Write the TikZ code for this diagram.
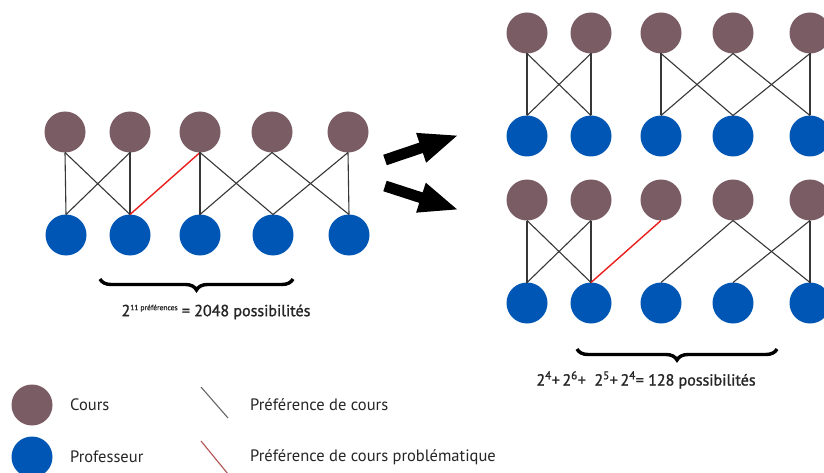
\documentclass[tikz,border=0pt]{standalone}
\usepackage{fontspec}
\setmainfont{PT Sans}
\newfontfamily\semigras[FakeBold=1.3]{PT Sans}
\usetikzlibrary{arrows.meta,decorations.pathreplacing}
\definecolor{coursbrun}{RGB}{122,92,101}
\definecolor{profbleu}{RGB}{0,86,180}
\definecolor{traitgris}{RGB}{55,55,55}
\definecolor{rougepref}{RGB}{235,30,30}

\begin{document}
\begin{tikzpicture}[x=1pt,y=-1pt]
  \tikzset{CoursStyle/.style = {
    shape         = circle,
    fill          = coursbrun,
    inner sep     = 0pt,
    outer sep     = 0pt,
    minimum size  = 41pt
    }
  }
  \tikzset{ProfStyle/.style = {
    shape         = circle,
    fill          = profbleu,
    inner sep     = 0pt,
    outer sep     = 0pt,
    minimum size  = 41pt
    }
  }
  \tikzset{EdgeStyle/.style = {
    draw          = traitgris,
    line width    = 1.1pt
    }
  }
  \tikzset{BadEdgeStyle/.style = {
    draw          = rougepref,
    line width    = 1.4pt
    }
  }
  \tikzset{BraceStyle/.style = {
    decorate,
    decoration    = {brace, mirror, amplitude=11pt},
    line width    = 3.4pt
    }
  }
  \tikzset{BigArrowStyle/.style = {
    line width    = 11pt,
    -{Triangle[length=40pt,width=28pt]}
    }
  }
  \tikzset{TextStyle/.style = {
    font          = \fontsize{16.5}{18}\selectfont,
    text          = black!85,
    inner sep     = 0pt
    }
  }
  \tikzset{CalcStyle/.style = {
    TextStyle,
    font          = \fontsize{16}{18}\semigras
    }
  }

  \useasboundingbox[fill=white] (0,0) rectangle (824,473);

  % graphe de depart
	\node[CoursStyle](CL1) at (65, 132) {};
	\node[CoursStyle](CL2) at (130, 132) {};
	\node[CoursStyle](CL3) at (200, 132) {};
	\node[CoursStyle](CL4) at (272, 132) {};
	\node[CoursStyle](CL5) at (348, 132) {};
	\node[ProfStyle](PL1) at (66, 235) {};
	\node[ProfStyle](PL2) at (130, 235) {};
	\node[ProfStyle](PL3) at (200, 235) {};
	\node[ProfStyle](PL4) at (273, 235) {};
	\node[ProfStyle](PL5) at (349, 235) {};
	\draw[EdgeStyle](CL1.south) -- (PL1.north);
	\draw[EdgeStyle](CL1.south) -- (PL2.north);
	\draw[EdgeStyle](CL2.south) -- (PL1.north);
	\draw[EdgeStyle](CL2.south) -- (PL2.north);
	\draw[BadEdgeStyle](CL3.south) -- (PL2.north);
	\draw[EdgeStyle](CL3.south) -- (PL3.north);
	\draw[EdgeStyle](CL3.south) -- (PL4.north);
	\draw[EdgeStyle](CL4.south) -- (PL3.north);
	\draw[EdgeStyle](CL4.south) -- (PL5.north);
	\draw[EdgeStyle](CL5.south) -- (PL4.north);
	\draw[EdgeStyle](CL5.south) -- (PL5.north);

  % graphe du haut
	\node[CoursStyle](CH1) at (527, 33) {};
	\node[CoursStyle](CH2) at (591, 33) {};
	\node[CoursStyle](CH3) at (661, 33) {};
	\node[CoursStyle](CH4) at (733, 33) {};
	\node[CoursStyle](CH5) at (810, 33) {};
	\node[ProfStyle](PH1) at (527, 136) {};
	\node[ProfStyle](PH2) at (591, 136) {};
	\node[ProfStyle](PH3) at (661, 136) {};
	\node[ProfStyle](PH4) at (733, 136) {};
	\node[ProfStyle](PH5) at (810, 136) {};
	\draw[EdgeStyle](CH1.south) -- (PH1.north);
	\draw[EdgeStyle](CH1.south) -- (PH2.north);
	\draw[EdgeStyle](CH2.south) -- (PH1.north);
	\draw[EdgeStyle](CH2.south) -- (PH2.north);
	\draw[EdgeStyle](CH3.south) -- (PH3.north);
	\draw[EdgeStyle](CH3.south) -- (PH4.north);
	\draw[EdgeStyle](CH4.south) -- (PH3.north);
	\draw[EdgeStyle](CH4.south) -- (PH5.north);
	\draw[EdgeStyle](CH5.south) -- (PH4.north);
	\draw[EdgeStyle](CH5.south) -- (PH5.north);

  % graphe du bas
	\node[CoursStyle](CB1) at (527, 200) {};
	\node[CoursStyle](CB2) at (591, 200) {};
	\node[CoursStyle](CB3) at (661, 200) {};
	\node[CoursStyle](CB4) at (733, 200) {};
	\node[CoursStyle](CB5) at (810, 200) {};
	\node[ProfStyle](PB1) at (527, 303) {};
	\node[ProfStyle](PB2) at (591, 303) {};
	\node[ProfStyle](PB3) at (661, 303) {};
	\node[ProfStyle](PB4) at (733, 303) {};
	\node[ProfStyle](PB5) at (810, 303) {};
	\draw[EdgeStyle](CB1.south) -- (PB1.north);
	\draw[EdgeStyle](CB1.south) -- (PB2.north);
	\draw[EdgeStyle](CB2.south) -- (PB1.north);
	\draw[EdgeStyle](CB2.south) -- (PB2.north);
	\draw[BadEdgeStyle](CB3.south) -- (PB2.north);
	\draw[EdgeStyle](CB4.south) -- (PB3.north);
	\draw[EdgeStyle](CB4.south) -- (PB5.north);
	\draw[EdgeStyle](CB5.south) -- (PB4.north);
	\draw[EdgeStyle](CB5.south) -- (PB5.north);

  % fleches
	\coordinate (F1a) at (385, 160);
	\coordinate (F1b) at (459, 135);
	\coordinate (F2a) at (385, 186);
	\coordinate (F2b) at (459, 210);
	\draw[BigArrowStyle](F1a) -- (F1b);
	\draw[BigArrowStyle](F2a) -- (F2b);

  % accolades et calculs
	\coordinate (AL1) at (100, 279);
	\coordinate (AL2) at (293, 279);
	\coordinate (AR1) at (577, 349);
	\coordinate (AR2) at (777, 349);
	\draw[BraceStyle](AL1) -- (AL2);
	\draw[BraceStyle](AR1) -- (AR2);
	\node[CalcStyle](CalcL) at (216, 312)
	  {2\raisebox{6pt}{\fontsize{7.5}{8}\selectfont 11 préférences} = 2048 possibilités};
	\node[CalcStyle](CalcR) at (646, 380)
	  {2\textsuperscript{4}+\,2\textsuperscript{6}+\ \ 2\textsuperscript{5}+\,2\textsuperscript{4}= 128 possibilités};

  % legende
	\node[CoursStyle](LegC) at (32, 405) {};
	\node[ProfStyle](LegP) at (32, 457) {};
	\node[TextStyle, anchor=west](TxtC) at (70, 405) {Cours};
	\node[TextStyle, anchor=west](TxtP) at (70, 457) {Professeur};
	\coordinate (LN1) at (201, 387);
	\coordinate (LN2) at (228, 418);
	\coordinate (LR1) at (201, 441);
	\coordinate (LR2) at (228, 474);
	\draw[EdgeStyle, draw=gray!80!black](LN1) -- (LN2);
	\draw[EdgeStyle, draw=rougepref!45!gray](LR1) -- (LR2);
	\node[TextStyle, anchor=west](TxtN) at (250, 405) {Préférence de cours};
	\node[TextStyle, anchor=west](TxtR) at (250, 457) {Préférence de cours problématique};

  \end{tikzpicture}
\end{document}
